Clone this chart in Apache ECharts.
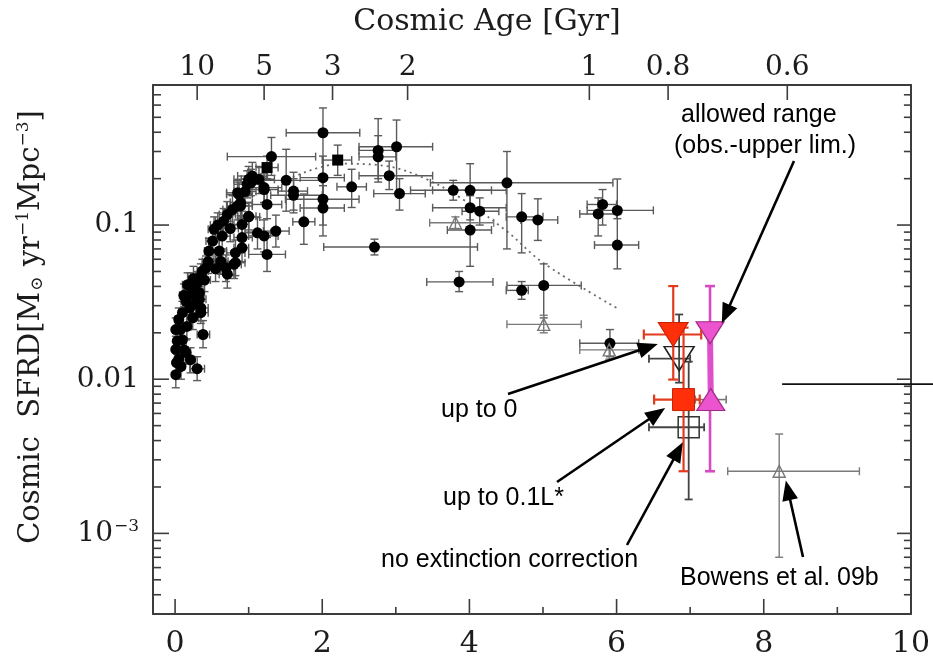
<!DOCTYPE html>
<html>
<head>
<meta charset="utf-8">
<script src="https://cdn.jsdelivr.net/npm/echarts@6/dist/echarts.min.js"></script>
<style>
  html, body { margin: 0; padding: 0; background: #fff; }
  #chart { width: 933px; height: 660px; }
</style>
</head>
<body>
<div id="chart"></div>
<script>
// ---------------------------------------------------------------------------
// Data: cosmic star-formation rate density vs redshift
// rows are [z, SFRD, zMin, zMax, SFRDMin, SFRDMax]
// ---------------------------------------------------------------------------
const filledCircles = [
  [0.01, 0.0107, 0.00, 0.05, 0.0088, 0.0130],
  [0.02, 0.0128, 0.00, 0.06, 0.0105, 0.0155],
  [0.08, 0.0121, 0.03, 0.13, 0.0100, 0.0145],
  [0.30, 0.0117, 0.20, 0.40, 0.0098, 0.0140],
  [0.21, 0.0134, 0.15, 0.27, 0.0110, 0.0160],
  [0.15, 0.0149, 0.10, 0.20, 0.0125, 0.0180],
  [0.01, 0.0156, 0.00, 0.04, 0.0130, 0.0190],
  [0.03, 0.0177, 0.00, 0.08, 0.0145, 0.0215],
  [0.10, 0.0180, 0.05, 0.15, 0.0150, 0.0220],
  [0.01, 0.0210, 0.00, 0.05, 0.0175, 0.0250],
  [0.38, 0.0195, 0.30, 0.47, 0.0160, 0.0240],
  [0.35, 0.0270, 0.25, 0.45, 0.0230, 0.0320],
  [0.05, 0.0244, 0.00, 0.10, 0.0200, 0.0290],
  [0.10, 0.0270, 0.05, 0.15, 0.0220, 0.0320],
  [0.15, 0.0320, 0.08, 0.20, 0.0270, 0.0380],
  [0.21, 0.0355, 0.15, 0.28, 0.0300, 0.0420],
  [0.17, 0.0410, 0.10, 0.24, 0.0340, 0.0490],
  [0.26, 0.0390, 0.20, 0.33, 0.0330, 0.0460],
  [0.33, 0.0364, 0.25, 0.40, 0.0300, 0.0430],
  [0.30, 0.0420, 0.20, 0.40, 0.0350, 0.0500],
  [0.37, 0.0503, 0.30, 0.45, 0.0420, 0.0600],
  [0.42, 0.0528, 0.35, 0.50, 0.0440, 0.0630],
  [0.35, 0.0467, 0.28, 0.42, 0.0390, 0.0560],
  [0.46, 0.0678, 0.40, 0.55, 0.0560, 0.0820],
  [0.51, 0.0787, 0.42, 0.60, 0.0650, 0.0950],
  [0.53, 0.0938, 0.45, 0.62, 0.0780, 0.1130],
  [0.64, 0.0848, 0.55, 0.75, 0.0700, 0.1000],
  [0.60, 0.0678, 0.50, 0.70, 0.0560, 0.0820],
  [0.62, 0.0583, 0.52, 0.72, 0.0480, 0.0700],
  [0.69, 0.0528, 0.60, 0.80, 0.0430, 0.0640],
  [0.71, 0.0480, 0.60, 0.82, 0.0390, 0.0580],
  [0.80, 0.0556, 0.70, 0.90, 0.0450, 0.0680],
  [0.82, 0.0660, 0.70, 0.95, 0.0540, 0.0800],
  [0.91, 0.0712, 0.80, 1.00, 0.0580, 0.0870],
  [0.66, 0.106, 0.55, 0.78, 0.087, 0.128],
  [0.71, 0.117, 0.60, 0.82, 0.096, 0.142],
  [0.78, 0.126, 0.65, 0.90, 0.100, 0.155],
  [0.85, 0.133, 0.70, 1.00, 0.108, 0.162],
  [0.89, 0.140, 0.75, 1.05, 0.115, 0.170],
  [0.87, 0.158, 0.70, 1.05, 0.130, 0.190],
  [0.91, 0.101, 0.80, 1.00, 0.083, 0.123],
  [1.00, 0.114, 0.90, 1.10, 0.093, 0.140],
  [1.00, 0.198, 0.80, 1.20, 0.160, 0.240],
  [0.98, 0.184, 0.80, 1.15, 0.150, 0.225],
  [1.05, 0.208, 0.85, 1.25, 0.170, 0.255],
  [1.14, 0.198, 0.90, 1.35, 0.160, 0.240],
  [1.21, 0.175, 1.00, 1.45, 0.140, 0.215],
  [1.25, 0.136, 1.05, 1.45, 0.110, 0.168],
  [1.12, 0.089, 0.95, 1.30, 0.070, 0.112],
  [1.21, 0.085, 1.00, 1.40, 0.067, 0.108],
  [1.37, 0.0914, 1.20, 1.55, 0.072, 0.116],
  [1.25, 0.0645, 1.00, 1.50, 0.050, 0.083],
  [1.00, 0.113, 0.85, 1.15, 0.090, 0.140],
  [1.31, 0.278, 0.71, 1.91, 0.210, 0.370],
  [1.51, 0.195, 1.00, 2.00, 0.123, 0.310],
  [2.01, 0.397, 1.51, 2.51, 0.200, 0.575],
  [2.76, 0.305, 2.50, 3.00, 0.190, 0.490],
  [2.76, 0.277, 2.50, 3.00, 0.200, 0.380],
  [3.01, 0.322, 2.50, 3.50, 0.160, 0.480],
  [2.01, 0.203, 1.70, 2.30, 0.140, 0.280],
  [2.01, 0.147, 1.50, 2.50, 0.100, 0.200],
  [2.01, 0.129, 1.70, 2.30, 0.085, 0.180],
  [2.40, 0.177, 2.20, 2.60, 0.130, 0.230],
  [2.91, 0.209, 2.50, 3.50, 0.170, 0.260],
  [3.05, 0.160, 2.70, 3.40, 0.125, 0.200],
  [1.61, 0.166, 1.40, 1.80, 0.125, 0.220],
  [1.61, 0.156, 1.30, 2.00, 0.120, 0.200],
  [1.75, 0.105, 1.60, 1.90, 0.075, 0.159],
  [2.71, 0.072, 2.02, 4.11, 0.064, 0.081],
  [3.86, 0.0428, 3.42, 4.32, 0.037, 0.050],
  [3.78, 0.168, 3.20, 4.30, 0.145, 0.195],
  [4.01, 0.168, 3.50, 4.50, 0.125, 0.250],
  [4.01, 0.1295, 3.50, 4.50, 0.108, 0.155],
  [4.14, 0.123, 3.90, 4.40, 0.100, 0.150],
  [4.01, 0.0928, 3.70, 4.30, 0.054, 0.158],
  [4.51, 0.188, 3.47, 5.95, 0.070, 0.300],
  [4.71, 0.113, 4.50, 5.00, 0.066, 0.160],
  [4.93, 0.108, 4.70, 5.20, 0.0795, 0.148],
  [4.71, 0.0377, 4.50, 4.80, 0.033, 0.043],
  [5.01, 0.0406, 4.51, 5.52, 0.025, 0.056],
  [5.81, 0.136, 5.60, 6.00, 0.100, 0.170],
  [5.75, 0.118, 5.50, 6.00, 0.085, 0.150],
  [6.01, 0.1245, 5.60, 6.50, 0.110, 0.199],
  [6.01, 0.0742, 5.70, 6.30, 0.052, 0.117],
  [5.91, 0.0171, 5.50, 6.30, 0.014, 0.021],
  [1.03, 0.188, 0.85, 1.20, 0.155, 0.230],
  [0.85, 0.162, 0.70, 1.00, 0.135, 0.195],
  [1.21, 0.170, 1.00, 1.40, 0.140, 0.205],
  [0.89, 0.133, 0.75, 1.05, 0.110, 0.160],
  [0.91, 0.083, 0.80, 1.05, 0.068, 0.100],
  [0.82, 0.057, 0.70, 0.95, 0.047, 0.069],
  [0.33, 0.033, 0.25, 0.42, 0.027, 0.040],
  [0.35, 0.029, 0.28, 0.45, 0.024, 0.035],
  [0.21, 0.041, 0.15, 0.28, 0.034, 0.049],
  [0.05, 0.0135, 0.00, 0.10, 0.0112, 0.0162],
  [0.12, 0.0155, 0.06, 0.18, 0.0128, 0.0186],
  [0.07, 0.0210, 0.02, 0.12, 0.0175, 0.0250],
  [0.16, 0.0220, 0.10, 0.22, 0.0183, 0.0262],
  [0.24, 0.0250, 0.16, 0.32, 0.0210, 0.0300],
  [0.20, 0.0290, 0.12, 0.28, 0.0245, 0.0345],
  [0.28, 0.0310, 0.20, 0.36, 0.0260, 0.0370],
  [0.12, 0.0350, 0.06, 0.18, 0.0295, 0.0415],
  [0.25, 0.0450, 0.18, 0.32, 0.0380, 0.0540],
  [0.40, 0.0440, 0.32, 0.48, 0.0370, 0.0525],
  [0.45, 0.0580, 0.37, 0.54, 0.0485, 0.0690],
  [0.55, 0.0520, 0.46, 0.64, 0.0430, 0.0630],
  [0.58, 0.1000, 0.48, 0.70, 0.0830, 0.1200],
  [0.75, 0.0950, 0.64, 0.86, 0.0780, 0.1150],
  [0.95, 0.1650, 0.80, 1.10, 0.1380, 0.1980]
];

const filledSquares = [
  [1.25, 0.236, 1.10, 1.40, 0.200, 0.280],
  [2.21, 0.264, 2.00, 2.40, 0.210, 0.330]
];

const openTriangles = [
  [3.81, 0.1035, 3.46, 4.33, 0.095, 0.113],
  [5.01, 0.0227, 4.51, 5.52, 0.020, 0.026],
  [5.90, 0.0155, 5.50, 6.30, 0.0135, 0.0175]
];

// Bowens et al. 09b
const bowens09b = [[8.21, 0.00253, 7.51, 9.30, 0.00070, 0.00441]];

// z ~ 7 estimates
const lyaUpToZero = [[6.77, 0.0195, 6.37, 7.15, 0.00995, 0.0402]];
const lyaUpToTenthLstar = [[6.91, 0.00738, 6.51, 7.13, 0.00253, 0.0216]];
const noExtinctionTri = [[6.85, 0.0136, 6.44, 7.00, 0.0095, 0.0263]];
const noExtinctionSq = [[6.98, 0.00488, 6.44, 7.19, 0.00166, 0.0130]];
const allowedRangeTop = [[7.27, 0.0200, 7.27, 7.27, 0.00253, 0.0402]];
const allowedRangeBottom = [[7.28, 0.00738, 7.07, 7.49, 0.00738, 0.00738]];

// dotted model curve
const modelZ = [1.6, 2.25, 2.9, 3.4, 3.88, 4.51, 5.0, 6.0];
const modelSFRD = [0.205, 0.25, 0.24, 0.20, 0.15, 0.091, 0.057, 0.029];

// axis ticks
const xMajorTicks = [0, 2, 4, 6, 8, 10];
const xMinorTicks = [1, 3, 5, 7, 9];
const yMajorTicks = [0.001, 0.01, 0.1];
const yMajorLabels = ['10{sup|−3}', '0.01', '0.1'];
const yMinorMantissas = [2, 3, 4, 5, 6, 7, 8, 9];
const ageLabels = ['10', '5', '3', '2', '1', '0.8', '0.6'];
const ageRedshift = [0.30, 1.21, 2.14, 3.16, 5.63, 6.70, 8.32];

// ---------------------------------------------------------------------------
const yMinorTicks = [];
[0.0001, 0.001, 0.01, 0.1].forEach(d => yMinorMantissas.forEach(m => {
  const v = +(m * d).toPrecision(3);
  if (v > 0.0003 && v < 0.8) yMinorTicks.push(v);
}));

const SERIF = 'DejaVu Serif';
const SANS = 'Liberation Sans';
const INK = '#1c1c1c';
const FRAME = '#3c3c3c';
const BAR = '#5a5a5a';

const nearestLabel = (v, vals, labels) => {
  let best = 0;
  vals.forEach((t, i) => { if (Math.abs(t - v) < Math.abs(vals[best] - v)) best = i; });
  return labels[best];
};

const frameLine = { show: true, onZero: false, lineStyle: { color: FRAME, width: 2 } };

// tick marks drawn inside the frame through the axis scales
function tickMarks(values, kind, lenA, lenB) {
  return {
    type: 'custom', xAxisIndex: 0, yAxisIndex: 0, silent: true, clip: false, z: 10,
    data: values.map(v => [v]),
    encode: kind === 'y' ? { y: 0 } : { x: 0 },
    renderItem(params, api) {
      const v = api.value(0);
      const cs = params.coordSys;
      const style = { stroke: FRAME, lineWidth: 1.6 };
      const seg = (x1, y1, x2, y2) => ({ type: 'line', shape: { x1, y1, x2, y2 }, style });
      if (kind === 'y') {
        const py = api.coord([0, v])[1];
        return { type: 'group', children: [
          seg(cs.x, py, cs.x + lenA, py),
          seg(cs.x + cs.width - lenB, py, cs.x + cs.width, py)
        ] };
      }
      const px = api.coord([v, 0.01])[0];
      if (kind === 'top') return seg(px, cs.y, px, cs.y + lenA);
      return seg(px, cs.y + cs.height, px, cs.y + cs.height - lenA);
    }
  };
}

function errorBars(rows, color, width, cap, z) {
  return {
    type: 'custom', xAxisIndex: 0, yAxisIndex: 0, data: rows, z: z,
    silent: true, clip: false,
    encode: { x: 0, y: 1 },
    renderItem(params, api) {
      const x = api.value(0), y = api.value(1);
      const xl = api.value(2), xr = api.value(3), yl = api.value(4), yh = api.value(5);
      const style = { stroke: color, lineWidth: width };
      const seg = (a, b) => ({ type: 'line', shape: { x1: a[0], y1: a[1], x2: b[0], y2: b[1] }, style: style });
      const kids = [];
      if (xr > xl) {
        const a = api.coord([xl, y]), b = api.coord([xr, y]);
        kids.push(seg(a, b), seg([a[0], a[1] - cap], [a[0], a[1] + cap]), seg([b[0], b[1] - cap], [b[0], b[1] + cap]));
      }
      if (yh > yl) {
        const a = api.coord([x, yl]), b = api.coord([x, yh]);
        kids.push(seg(a, b), seg([a[0] - cap, a[1]], [a[0] + cap, a[1]]), seg([b[0] - cap, b[1]], [b[0] + cap, b[1]]));
      }
      return { type: 'group', children: kids };
    }
  };
}
function markers(rows, symbol, size, fill, stroke, strokeWidth, z, rotate) {
  return {
    type: 'scatter', xAxisIndex: 0, yAxisIndex: 0, data: rows, z: z,
    encode: { x: 0, y: 1 }, symbol: symbol, symbolSize: size, symbolRotate: rotate || 0,
    silent: true,
    itemStyle: { color: fill, borderColor: stroke, borderWidth: strokeWidth, opacity: 1 }
  };
}

const chart = echarts.init(document.getElementById('chart'), null, { renderer: 'canvas' });

const option = {
  animation: false,
  backgroundColor: '#fff',
  grid: { left: 153, right: 21.5, top: 85, bottom: 46 },
  xAxis: [
    {
      type: 'value', min: -0.3, max: 10, position: 'bottom',
      splitLine: { show: false }, axisLine: frameLine, axisTick: { show: false },
      axisLabel: {
        show: true, customValues: xMajorTicks, margin: 15,
        fontFamily: SERIF, fontSize: 30, color: INK
      }
    },
    {
      type: 'value', min: -0.3, max: 10, position: 'top',
      splitLine: { show: false }, axisLine: frameLine, axisTick: { show: false },
      axisLabel: {
        show: true, customValues: ageRedshift, margin: 3,
        fontFamily: SERIF, fontSize: 28, color: INK,
        formatter: v => nearestLabel(v, ageRedshift, ageLabels)
      }
    }
  ],
  yAxis: [
    {
      type: 'log', logBase: 10, min: 0.0003, max: 0.81, position: 'left',
      splitLine: { show: false }, axisLine: frameLine, axisTick: { show: false },
      axisLabel: {
        show: true, customValues: yMajorTicks, margin: 14,
        fontFamily: SERIF, fontSize: 28, color: INK,
        formatter: v => nearestLabel(Math.log10(v), yMajorTicks.map(Math.log10), yMajorLabels),
        rich: { sup: { fontFamily: SERIF, fontSize: 17, color: INK, verticalAlign: 'top', padding: [0, 0, 14, 1] } }
      }
    },
    {
      type: 'log', logBase: 10, min: 0.0003, max: 0.81, position: 'right',
      splitLine: { show: false }, axisLine: frameLine, axisTick: { show: false },
      axisLabel: { show: false }
    }
  ],
  series: [
    tickMarks(xMajorTicks, 'bottom', 15),
    tickMarks(xMinorTicks, 'bottom', 7),
    tickMarks(ageRedshift, 'top', 15),
    tickMarks(yMajorTicks, 'y', 16, 14),
    tickMarks(yMinorTicks, 'y', 8, 7),
    {
      type: 'line', xAxisIndex: 0, yAxisIndex: 0, silent: true, z: 1,
      data: modelZ.map((z, i) => [z, modelSFRD[i]]),
      smooth: 0.35, showSymbol: false, symbol: 'none',
      lineStyle: { color: '#6a6a6a', width: 1.8, type: [2, 4] }
    },
    errorBars(filledCircles, BAR, 1.4, 4, 2),
    errorBars(filledSquares, BAR, 1.4, 4, 2),
    errorBars(openTriangles, '#7a7a7a', 1.4, 4, 2),
    errorBars(bowens09b, '#7a7a7a', 1.4, 4, 2),
    markers(filledCircles, 'circle', 11, '#000', '#000', 0, 3),
    markers(filledSquares, 'rect', 11, '#000', '#000', 0, 3),
    markers(openTriangles, 'triangle', 12, 'rgba(255,255,255,0)', '#777', 1.4, 3),
    markers(bowens09b, 'triangle', 12, 'rgba(255,255,255,0)', '#777', 1.4, 3),

    errorBars(noExtinctionTri, '#444', 1.8, 4, 4),
    errorBars(noExtinctionSq, '#444', 1.8, 4, 4),
    markers(noExtinctionTri, 'triangle', [30, 24], 'rgba(255,255,255,0)', '#222', 1.5, 5, 180),
    markers(noExtinctionSq, 'rect', [21, 21], 'rgba(255,255,255,0)', '#333', 1.5, 5),

    errorBars(allowedRangeTop, '#d64bc0', 2.6, 5, 6),
    errorBars(allowedRangeBottom, '#777', 1.6, 4, 6),
    {
      type: 'line', xAxisIndex: 0, yAxisIndex: 0, silent: true, z: 6,
      data: [[allowedRangeTop[0][0], allowedRangeTop[0][1]], [allowedRangeBottom[0][0], allowedRangeBottom[0][1]]],
      showSymbol: false, symbol: 'none',
      lineStyle: { color: '#e04fcb', width: 6 }
    },
    markers(allowedRangeTop, 'triangle', [28, 22], '#ec53cf', '#a02a88', 1.2, 7, 180),
    markers(allowedRangeBottom, 'triangle', [28, 22], '#ec53cf', '#a02a88', 1.2, 7),

    errorBars(lyaUpToTenthLstar, '#e33a1e', 2.2, 5, 8),
    errorBars(lyaUpToZero, '#e33a1e', 2.2, 5, 8),
    markers(lyaUpToTenthLstar, 'rect', [22, 22], '#ff2f0a', '#c72000', 1, 9),
    markers(lyaUpToZero, 'triangle', [30, 24], '#ff2f0a', '#c72000', 1, 9, 180)
  ]
};

chart.setOption(option);

// ---------------------------------------------------------------------------
// Callouts: text and arrows (tails in page space, tips at data positions)
// ---------------------------------------------------------------------------
const notes = [
  { text: 'allowed range', x: 681, y: 115 },
  { text: '(obs.-upper lim.)', x: 674, y: 146 },
  { text: 'up to 0', x: 441, y: 410 },
  { text: 'up to 0.1L*', x: 443, y: 498 },
  { text: 'no extinction correction', x: 381, y: 560 },
  { text: 'Bowens et al. 09b', x: 680, y: 578 }
];
const arrows = [
  { tail: [794, 161], tip: [7.43, 0.0231] },
  { tail: [508, 394], tip: [6.56, 0.0169] },
  { tail: [557, 482], tip: [6.66, 0.0065] },
  { tail: [627, 545], tip: [6.90, 0.0039] },
  { tail: [803, 557], tip: [8.30, 0.0022] }
];
const pointerLineStart = [8.25, 0.0093];

const toPx = p => chart.convertToPixel({ xAxisIndex: 0, yAxisIndex: 0 }, p);
const graphics = [];

notes.forEach(n => graphics.push({
  type: 'text', x: n.x, y: n.y, silent: true, z: 20,
  style: { text: n.text, fontFamily: SANS, fontSize: 25, fill: '#000', align: 'left', verticalAlign: 'middle' }
}));

arrows.forEach(a => {
  const tip = toPx(a.tip);
  const dx = tip[0] - a.tail[0], dy = tip[1] - a.tail[1];
  const len = Math.hypot(dx, dy), ux = dx / len, uy = dy / len;
  const headLen = 20, headHalf = 8;
  const base = [tip[0] - ux * headLen, tip[1] - uy * headLen];
  graphics.push({
    type: 'line', silent: true, z: 20,
    shape: { x1: a.tail[0], y1: a.tail[1], x2: base[0] + ux * 2, y2: base[1] + uy * 2 },
    style: { stroke: '#000', lineWidth: 2.6 }
  });
  graphics.push({
    type: 'polygon', silent: true, z: 20,
    shape: { points: [tip, [base[0] - uy * headHalf, base[1] + ux * headHalf], [base[0] + uy * headHalf, base[1] - ux * headHalf]] },
    style: { fill: '#000' }
  });
});

const pl = toPx(pointerLineStart);
graphics.push({
  type: 'line', silent: true, z: 20,
  shape: { x1: pl[0], y1: pl[1], x2: chart.getWidth(), y2: pl[1] },
  style: { stroke: '#111', lineWidth: 1.6 }
});

// axis titles
graphics.push({
  type: 'text', x: 487, y: 22, silent: true, z: 20,
  style: { text: 'Cosmic Age [Gyr]', fontFamily: SERIF, fontSize: 30, fill: INK, align: 'center', verticalAlign: 'middle' }
});
graphics.push({
  type: 'text', x: 31, y: 327, rotation: Math.PI / 2, silent: true, z: 20,
  style: {
    text: 'Cosmic  SFRD[M{sun|⊙} yr{sup|−1}Mpc{sup|−3}]',
    fontFamily: SERIF, fontSize: 29, fill: INK, align: 'center', verticalAlign: 'middle',
    rich: {
      sun: { fontFamily: SERIF, fontSize: 17, fill: INK, verticalAlign: 'bottom', padding: [12, 1, 0, 1] },
      sup: { fontFamily: SERIF, fontSize: 17, fill: INK, verticalAlign: 'top', padding: [0, 0, 14, 0] }
    }
  }
});

chart.setOption({ graphic: graphics });
</script>
</body>
</html>
